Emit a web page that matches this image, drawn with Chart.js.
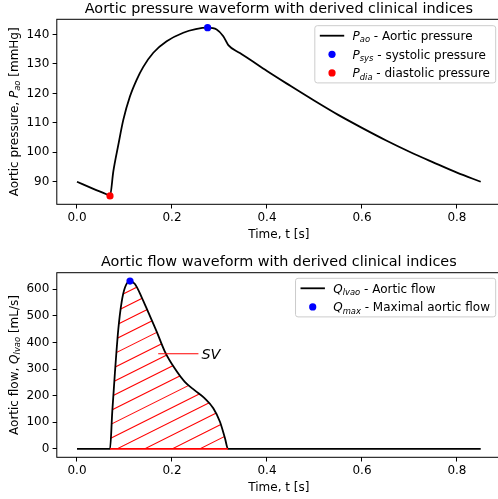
<!DOCTYPE html>
<html>
<head>
<meta charset="utf-8">
<script src="https://cdn.jsdelivr.net/npm/chart.js@4.4.1/dist/chart.umd.min.js"></script>
<style>
  html, body { margin: 0; padding: 0; width: 498px; height: 499px; overflow: hidden; background: #fff; }
  canvas { display: block; }
</style>
</head>
<body>
<canvas id="pressure-chart" width="505" height="250"></canvas>
<canvas id="flow-chart" width="505" height="249"></canvas>
<script>
const FONT = '"DejaVu Sans", sans-serif';
const FS = 12;          // base text size (10pt)
const TITLE_FS = 14.4;  // 12pt

// aortic pressure over one beat [s, mmHg]
const pressureTime = [0, 0.0345, 0.062, 0.0695, 0.0765, 0.087, 0.0975, 0.1116, 0.1256, 0.1396, 0.1607, 0.1888,
  0.2238, 0.25, 0.275, 0.294, 0.308, 0.3186, 0.343, 0.364, 0.40, 0.45, 0.50, 0.55, 0.60, 0.65,
  0.70, 0.75, 0.80, 0.85];
const pressureValues = [90, 87.6, 85.75, 85.2, 93.5, 102.5, 111.0, 119.0, 124.6, 129.0, 133.8, 137.7,
  140.6, 141.8, 142.3, 141.7, 139.4, 136.4, 133.7, 131.5, 127.6, 122.5, 117.5, 112.7, 108.3, 104.1,
  100.2, 96.6, 93.1, 90.0];
const systolicPoint = [0.275, 142.3];
const diastolicPoint = [0.0695, 85.2];
const pressureTicks = [90, 100, 110, 120, 130, 140];

// aortic flow over one beat [s, mL/s]
const flowTime = [0, 0.0695, 0.0743, 0.080, 0.087, 0.094, 0.101, 0.1116, 0.122, 0.136, 0.150,
  0.168, 0.185, 0.206, 0.227, 0.248, 0.269, 0.287, 0.301, 0.3116, 0.318, 0.85];
const flowValues = [0, 0, 140, 290, 450, 552, 607, 631, 620, 571, 514,
  440, 366, 302, 252, 220, 190, 153, 102, 40, 0, 0];
const maxFlowPoint = [0.1116, 631];
const flowTicks = [0, 100, 200, 300, 400, 500, 600];
const ejection = [0.0695, 0.318];
const svArrowTo = [0.171, 358];
const svLabelAt = [0.262, 358];

const timeTicks = [0, 0.2, 0.4, 0.6, 0.8];

const pressureLegend = [
  { kind: 'line', color: '#000', label: [['P', 'i'], ['ao', 's'], [' - Aortic pressure', '']] },
  { kind: 'dot', color: '#0000ff', label: [['P', 'i'], ['sys', 's'], [' - systolic pressure', '']] },
  { kind: 'dot', color: '#ff0000', label: [['P', 'i'], ['dia', 's'], [' - diastolic pressure', '']] }
];
const flowLegend = [
  { kind: 'line', color: '#000', label: [['Q', 'i'], ['lvao', 's'], [' - Aortic flow', '']] },
  { kind: 'dot', color: '#0000ff', label: [['Q', 'i'], ['max', 's'], [' - Maximal aortic flow', '']] }
];

const xy = (xs, ys) => xs.map((x, i) => ({ x: x, y: ys[i] }));

// text with italic / subscript runs, like mathtext labels
function setFont(ctx, style, size) {
  const s = style === 's' ? size * 0.7 : size;
  ctx.font = (style ? 'italic ' : '') + s + 'px ' + FONT;
}
function richWidth(ctx, parts, size) {
  let w = 0;
  for (const [t, st] of parts) { setFont(ctx, st, size); w += ctx.measureText(t).width; }
  return w;
}
function drawRich(ctx, parts, x, y, size, align) {
  const w = richWidth(ctx, parts, size);
  let cx = align === 'center' ? x - w / 2 : (align === 'right' ? x - w : x);
  ctx.textAlign = 'left';
  ctx.textBaseline = 'alphabetic';
  for (const [t, st] of parts) {
    setFont(ctx, st, size);
    ctx.fillText(t, cx, y + (st === 's' ? size * 0.2 : 0));
    cx += ctx.measureText(t).width;
  }
}

function drawLegend(ctx, area, items, topInset) {
  const rowGap = 18.6, handle = 24.4;
  let maxW = 0;
  for (const it of items) maxW = Math.max(maxW, richWidth(ctx, it.label, FS));
  const right = area.right - 5.2;
  const textX = right - 5.7 - maxW;
  const left = textX - 8.3 - handle - 5;
  const top = area.top + topInset;
  const h = 20 + (items.length - 1) * rowGap;
  ctx.save();
  ctx.beginPath();
  ctx.roundRect(left, top, right - left, h, 2.5);
  ctx.fillStyle = 'rgba(255,255,255,0.8)';
  ctx.fill();
  ctx.strokeStyle = '#cccccc';
  ctx.lineWidth = 1;
  ctx.stroke();
  items.forEach((it, i) => {
    const cy = top + 10 + i * rowGap;
    const hx = left + 5;
    if (it.kind === 'line') {
      ctx.beginPath();
      ctx.moveTo(hx, cy);
      ctx.lineTo(hx + handle, cy);
      ctx.strokeStyle = it.color;
      ctx.lineWidth = 1.8;
      ctx.stroke();
    } else {
      ctx.beginPath();
      ctx.arc(hx + handle / 2, cy, 3.6, 0, Math.PI * 2);
      ctx.fillStyle = it.color;
      ctx.fill();
    }
    ctx.fillStyle = '#000';
    drawRich(ctx, it.label, textX, cy + 4.2, FS, 'left');
  });
  ctx.restore();
}

const decor = {
  id: 'decor',
  beforeDatasetDraw(chart, args, opts) {
    if (!opts.hatch || args.index !== 0) return;
    const { ctx, scales: { x, y } } = chart;
    const pts = args.meta.data;
    const y0 = y.getPixelForValue(0);
    const xb = x.getPixelForValue(opts.hatch.range[1]);
    ctx.save();
    ctx.beginPath();
    args.meta.dataset.path(ctx);
    ctx.lineTo(pts[pts.length - 1].x, y0);
    ctx.lineTo(pts[0].x, y0);
    ctx.closePath();
    ctx.clip();
    ctx.beginPath();
    for (let bx = 144.5 - 27.6 * 20; bx < xb + 30; bx += 27.6) {
      ctx.moveTo(bx, y0);
      ctx.lineTo(bx + 800, y0 - 400);
    }
    ctx.strokeStyle = '#ff0000';
    ctx.lineWidth = 1.1;
    ctx.stroke();
    ctx.restore();
  },
  afterDatasetDraw(chart, args, opts) {
    if (!opts.hatch || args.index !== 0) return;
    const { ctx, scales: { x, y } } = chart;
    const y0 = y.getPixelForValue(0);
    ctx.save();
    ctx.beginPath();
    ctx.moveTo(x.getPixelForValue(opts.hatch.range[0]), y0);
    ctx.lineTo(x.getPixelForValue(opts.hatch.range[1]), y0);
    ctx.strokeStyle = '#ff0000';
    ctx.lineWidth = 1.6;
    ctx.stroke();
    // SV annotation
    const ax = x.getPixelForValue(opts.hatch.arrow[0]), ay = y.getPixelForValue(opts.hatch.arrow[1]);
    const lx = x.getPixelForValue(opts.hatch.label[0]), ly = y.getPixelForValue(opts.hatch.label[1]);
    ctx.beginPath();
    ctx.moveTo(ax, ay);
    ctx.lineTo(lx - 3, ly);
    ctx.lineWidth = 1.1;
    ctx.stroke();
    ctx.fillStyle = '#000';
    drawRich(ctx, [['SV', 'i']], lx, ly + 5.3, TITLE_FS, 'left');
    ctx.restore();
  },
  afterDraw(chart, args, opts) {
    const { ctx, chartArea: a } = chart;
    ctx.save();
    ctx.strokeStyle = '#000';
    ctx.lineWidth = 1;
    ctx.strokeRect(a.left, a.top, a.right - a.left, a.bottom - a.top);
    ctx.fillStyle = '#000';
    const cx = (a.left + a.right) / 2;
    drawRich(ctx, [[opts.title, '']], cx, a.top - 6.3, TITLE_FS, 'center');
    drawRich(ctx, [['Time, t [s]', '']], cx, a.bottom + 33.5, FS, 'center');
    ctx.translate(18, (a.top + a.bottom) / 2);
    ctx.rotate(-Math.PI / 2);
    drawRich(ctx, opts.yLabel, 0, 0, FS, 'center');
    ctx.restore();
    drawLegend(ctx, a, opts.legend, opts.legendInset);
  }
};

function timeAxis(height) {
  return {
    type: 'linear',
    min: -0.0425,
    max: 0.8925,
    afterBuildTicks: s => { s.ticks = timeTicks.map(v => ({ value: v })); },
    afterFit: s => { s.height = height; },
    ticks: { callback: v => v.toFixed(1), color: '#000', font: { family: FONT, size: FS }, padding: 2.6, maxRotation: 0, autoSkip: false },
    grid: { drawOnChartArea: false, tickLength: 4.2, color: '#000', lineWidth: 1 },
    border: { display: false }
  };
}
function valueAxis(min, max, ticks) {
  return {
    type: 'linear',
    min: min,
    max: max,
    afterBuildTicks: s => { s.ticks = ticks.map(v => ({ value: v })); },
    afterFit: s => { s.width = 56.8; },
    ticks: { color: '#000', font: { family: FONT, size: FS }, padding: 3.3, autoSkip: false },
    grid: { drawOnChartArea: false, tickLength: 4.2, color: '#000', lineWidth: 1 },
    border: { display: false }
  };
}

const curve = (data) => ({
  data: data, showLine: true, borderColor: '#000', borderWidth: 1.8, pointRadius: 0,
  cubicInterpolationMode: 'monotone', order: 2
});
const marker = (p, color) => ({
  data: [{ x: p[0], y: p[1] }], pointRadius: 3.6, pointBackgroundColor: color,
  pointBorderColor: color, pointBorderWidth: 0, order: 1
});

function baseOptions(top) {
  return {
    responsive: false,
    devicePixelRatio: 1,
    animation: false,
    events: [],
    layout: { padding: { top: top, right: 4.1, bottom: 0, left: 0 } },
    plugins: { legend: { display: false }, tooltip: { enabled: false } }
  };
}

const pOpts = baseOptions(19.3);
pOpts.scales = { x: timeAxis(45.7), y: valueAxis(82.345, 145.155, pressureTicks) };
pOpts.plugins.decor = {
  title: 'Aortic pressure waveform with derived clinical indices',
  yLabel: [['Aortic pressure, ', ''], ['P', 'i'], ['ao', 's'], [' [mmHg]', '']],
  legend: pressureLegend,
  legendInset: 6.4
};
new Chart(document.getElementById('pressure-chart'), {
  type: 'scatter',
  data: {
    datasets: [
      curve(xy(pressureTime, pressureValues)),
      marker(systolicPoint, '#0000ff'),
      marker(diastolicPoint, '#ff0000')
    ]
  },
  options: pOpts,
  plugins: [decor]
});

const fOpts = baseOptions(22.7);
fOpts.scales = { x: timeAxis(41.7), y: valueAxis(-31.55, 662.55, flowTicks) };
fOpts.plugins.decor = {
  title: 'Aortic flow waveform with derived clinical indices',
  yLabel: [['Aortic flow, ', ''], ['Q', 'i'], ['lvao', 's'], [' [mL/s]', '']],
  legend: flowLegend,
  legendInset: 5.6,
  hatch: { range: ejection, arrow: svArrowTo, label: svLabelAt }
};
new Chart(document.getElementById('flow-chart'), {
  type: 'scatter',
  data: {
    datasets: [
      curve(xy(flowTime, flowValues)),
      marker(maxFlowPoint, '#0000ff')
    ]
  },
  options: fOpts,
  plugins: [decor]
});
</script>
</body>
</html>
